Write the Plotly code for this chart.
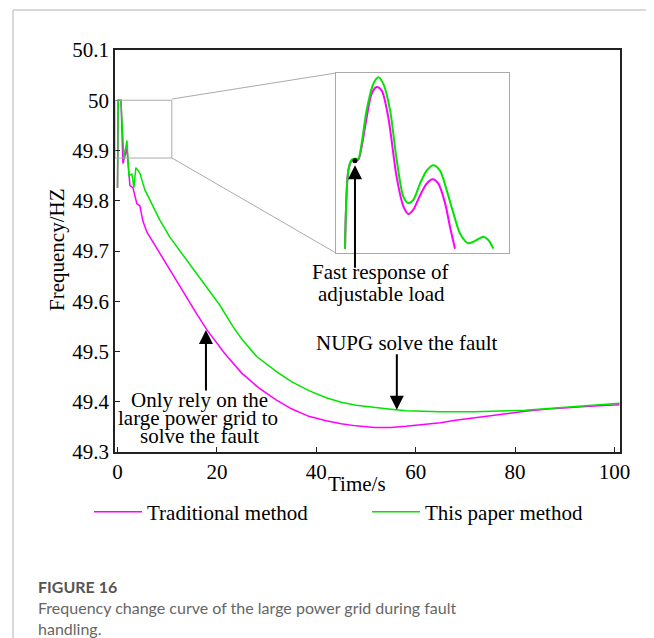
import plotly.graph_objects as go

# ---------------- data ----------------
time_traditional = [0, 0.15, 0.7, 1.1, 1.9, 2.5, 3.1, 3.9, 4.5, 5.1, 5.9, 7.0, 8.5, 10.0, 11.5, 13.0,
                    14.5, 16.0, 18.0, 21.5, 25, 28.5, 32, 35, 38.5, 42, 45, 48, 51.7, 55, 58,
                    61.5, 65, 68, 71.7, 75, 78, 82, 86, 90, 95, 101]
freq_traditional = [49.826, 50.0, 50.0, 49.874, 49.904, 49.83, 49.826, 49.794, 49.79, 49.76, 49.738,
                    49.72, 49.695, 49.67, 49.646, 49.622, 49.598, 49.574, 49.543, 49.497, 49.457,
                    49.427, 49.403, 49.386, 49.371, 49.362, 49.356, 49.352, 49.349, 49.349, 49.351,
                    49.354, 49.358, 49.363, 49.368, 49.373, 49.377, 49.381, 49.385, 49.388, 49.391,
                    49.394]

time_proposed = [0, 0.15, 0.7, 1.3, 1.9, 2.3, 2.9, 3.3, 3.7, 4.5, 5.5, 6.5, 8.5, 10.5, 13.9, 17.2,
                 20.6, 23.2, 25, 28, 32, 35, 38.5, 42, 45, 48, 51.7, 55, 58, 65, 71.7, 78, 82,
                 86, 90, 95, 101]
freq_proposed = [49.826, 50.0, 50.0, 49.884, 49.92, 49.85, 49.853, 49.826, 49.866, 49.855, 49.822,
                 49.802, 49.762, 49.728, 49.683, 49.638, 49.592, 49.55, 49.525, 49.49, 49.46,
                 49.44, 49.422, 49.408, 49.399, 49.393, 49.388, 49.385, 49.382, 49.380, 49.380,
                 49.381, 49.383, 49.386, 49.389, 49.393, 49.397]

# zoomed detail (inset) of the first seconds
inset_time_proposed = [0.177, 0.242, 0.308, 0.374, 0.439, 0.504, 0.603, 0.734, 0.832, 0.930, 1.061,
                       1.192, 1.324, 1.422, 1.520, 1.651, 1.782, 1.913, 2.044, 2.175, 2.306, 2.437,
                       2.601, 2.765, 2.896, 2.994, 3.093]
inset_freq_proposed = [49.842, 49.914, 49.924, 49.925, 49.925, 49.939, 49.970, 49.994, 50.000,
                       49.994, 49.970, 49.924, 49.890, 49.884, 49.887, 49.902, 49.914, 49.919,
                       49.914, 49.896, 49.875, 49.856, 49.847, 49.850, 49.853, 49.850, 49.842]
inset_time_traditional = [0.177, 0.242, 0.308, 0.374, 0.439, 0.504, 0.603, 0.701, 0.799, 0.897,
                          1.028, 1.192, 1.324, 1.422, 1.520, 1.651, 1.782, 1.900, 2.012, 2.143,
                          2.241, 2.339]
inset_freq_traditional = [49.842, 49.914, 49.923, 49.924, 49.924, 49.936, 49.963, 49.985, 49.991,
                          49.988, 49.963, 49.908, 49.881, 49.874, 49.878, 49.891, 49.902, 49.906,
                          49.902, 49.884, 49.862, 49.842]
fast_response_point = [0.373, 49.923]

x_ticks = [0, 20, 40, 60, 80, 100]
y_ticks = [49.3, 49.4, 49.5, 49.6, 49.7, 49.8, 49.9, 50.0, 50.1]
y_tick_labels = ["49.3", "49.4", "49.5", "49.6", "49.7", "49.8", "49.9", "50", "50.1"]

series_names = ["Traditional method", "This paper method"]

# ---------------- styling ----------------
OFF = 8  # page body margin added by the html page
W, H = 654 - OFF, 638 - OFF
L, T = 115 - OFF, 50 - OFF
R = W - (620 - OFF)
B = H - (452 - OFF)
PW, PH = W - L - R, H - T - B
SERIF = "Liberation Serif"
MAGENTA = "#ff00ff"
GREEN = "#00e400"


def px(xp):  # reference-screenshot pixel -> paper fraction
    return (xp - OFF - L) / PW


def py(yp):
    return (H - B - (yp - OFF)) / PH


inset_x_dom = [px(336), px(509)]
inset_y_dom = [py(253), py(73)]

fig = go.Figure()
fig.add_trace(go.Scatter(x=time_traditional, y=freq_traditional, mode="lines",
                         name=series_names[0], legend="legend",
                         line=dict(color=MAGENTA, width=1.5)))
fig.add_trace(go.Scatter(x=time_proposed, y=freq_proposed, mode="lines",
                         name=series_names[1], legend="legend2",
                         line=dict(color=GREEN, width=1.5)))
fig.add_trace(go.Scatter(x=inset_time_traditional, y=inset_freq_traditional, mode="lines",
                         showlegend=False, xaxis="x2", yaxis="y2",
                         line=dict(color=MAGENTA, width=2, shape="spline", smoothing=0.8)))
fig.add_trace(go.Scatter(x=inset_time_proposed, y=inset_freq_proposed, mode="lines",
                         showlegend=False, xaxis="x2", yaxis="y2",
                         line=dict(color=GREEN, width=2, shape="spline", smoothing=0.8)))
fig.add_trace(go.Scatter(x=[fast_response_point[0]], y=[fast_response_point[1]], mode="markers",
                         showlegend=False, xaxis="x2", yaxis="y2",
                         marker=dict(color="black", size=5)))

axis_common = dict(showline=True, linecolor="#222", linewidth=1.5, mirror=True,
                   ticks="inside", ticklen=5, tickcolor="#222", showgrid=False, zeroline=False,
                   tickfont=dict(family=SERIF, size=21, color="black"))

legend_common = dict(orientation="h", yanchor="middle", xanchor="left", y=py(512),
                     font=dict(family=SERIF, size=21, color="black"),
                     bgcolor="rgba(0,0,0,0)", itemwidth=48)

fig.update_layout(
    width=W, height=H,
    margin=dict(l=L, r=R, t=T, b=B),
    paper_bgcolor="white", plot_bgcolor="white",
    xaxis=dict(range=[-0.5, 101.1], tickvals=x_ticks, **axis_common),
    yaxis=dict(range=[49.3, 50.1], tickvals=y_ticks, ticktext=y_tick_labels, **axis_common),
    xaxis2=dict(domain=inset_x_dom, anchor="y2", range=[0, 3.4], showline=True, mirror=True,
                linecolor="#aaaaaa", linewidth=1, showticklabels=False, ticks="",
                showgrid=False, zeroline=False),
    yaxis2=dict(domain=inset_y_dom, anchor="x2", range=[49.838, 50.004], showline=True,
                mirror=True, linecolor="#aaaaaa", linewidth=1, showticklabels=False, ticks="",
                showgrid=False, zeroline=False),
    showlegend=True,
    legend=dict(x=px(89), **legend_common),
    legend2=dict(x=px(367), **legend_common),
)

shapes = []
# zoom rectangle in main axes
shapes.append(dict(type="rect", xref="x", yref="y", x0=-0.5, x1=10.93, y0=49.885, y1=50.0,
                   line=dict(color="#aaaaaa", width=1)))
# connecting lines
shapes.append(dict(type="line", xref="paper", yref="paper", x0=px(172), y0=py(99),
                   x1=inset_x_dom[0], y1=inset_y_dom[1], line=dict(color="#aaaaaa", width=1)))
shapes.append(dict(type="line", xref="paper", yref="paper", x0=px(172), y0=py(158),
                   x1=inset_x_dom[0], y1=inset_y_dom[0], line=dict(color="#aaaaaa", width=1)))
# page card border
shapes.append(dict(type="line", xref="paper", yref="paper", x0=px(13), y0=py(10),
                   x1=px(660), y1=py(10), line=dict(color="#cccccc", width=1.5)))
shapes.append(dict(type="line", xref="paper", yref="paper", x0=px(13), y0=py(10),
                   x1=px(13), y1=py(645), line=dict(color="#cccccc", width=1.5)))
fig.update_layout(shapes=shapes)

ann = []


def text(t, xp, yp, size=21, **kw):
    ann.append(dict(text=t, xref="paper", yref="paper", x=px(xp), y=py(yp), showarrow=False,
                    xanchor=kw.pop("xanchor", "center"), yanchor="middle",
                    font=dict(family=kw.pop("family", SERIF), size=size,
                              color=kw.pop("color", "black")), **kw))


text("Time/s", 357, 484)
text("Frequency/HZ", 57, 250, textangle=-90)
text("Fast response of", 380, 272)
text("adjustable load", 381, 294)
text("NUPG solve the fault", 407, 343)
text("Only rely on the", 199, 400)
text("large power grid to", 198, 418)
text("solve the fault", 199, 436)

text("<b>FIGURE 16</b>", 36, 586, size=16, xanchor="left", family="Lato", color="#555555")
text("Frequency change curve of the large power grid during fault", 36, 607, size=16,
     xanchor="left", family="Lato", color="#666666")
text("handling.", 36, 628, size=16, xanchor="left", family="Lato", color="#666666")

arrow_style = dict(showarrow=True, arrowhead=2, arrowsize=1.4, arrowwidth=2,
                   arrowcolor="black", text="", axref="pixel", ayref="pixel", standoff=0)
ann.append(dict(x=17.8, y=49.543, xref="x", yref="y", ax=0, ay=62, **arrow_style))
ann.append(dict(x=56.2, y=49.384, xref="x", yref="y", ax=0, ay=-57, **arrow_style))
ann.append(dict(x=0.373, y=49.919, xref="x2", yref="y2", ax=0, ay=104, **arrow_style))
fig.update_layout(annotations=ann)

fig.write_html("out.html")
